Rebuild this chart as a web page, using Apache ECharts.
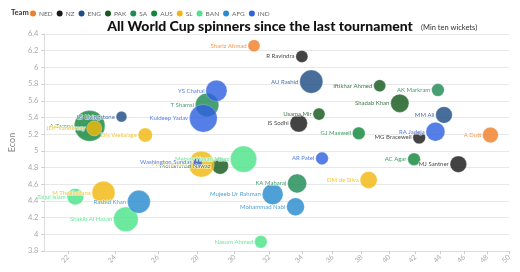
<!DOCTYPE html>
<html><head><meta charset="utf-8">
<script src="https://cdn.jsdelivr.net/npm/echarts@6/dist/echarts.min.js"></script>
<style>html,body{margin:0;padding:0;background:#fff}#c{width:520px;height:272px}</style>
</head><body><div id="c"></div>
<script>
const teams = ['NED','NZ','ENG','PAK','SA','AUS','SL','BAN','AFG','IND'];
const players = ['Shariz Ahmad','R Ravindra','AU Rashid','YS Chahal','T Shamsi','Kuldeep Yadav','Usama Mir','IS Sodhi','GJ Maxwell','Iftikhar Ahmed','AK Markram','Shadab Khan','MM Ali','RA Jadeja','MG Bracewell','A Dutt','AC Agar','MJ Santner','DM de Silva','AR Patel','Mehidy Hasan Miraz','PWH de Silva','Washington Sundar','Mohammad Nawaz','KA Maharaj','Mujeeb Ur Rahman','Mohammad Nabi','Nasum Ahmed','M Theekshana','Taijul Islam','Rashid Khan','Shakib Al Hasan','A Zampa','JDF Vandersay','LS Livingstone','DN Wellalage'];
const playerTeams = ['NED','NZ','ENG','IND','SA','IND','PAK','NZ','AUS','PAK','SA','PAK','ENG','IND','NZ','NED','AUS','NZ','SL','IND','BAN','SL','IND','PAK','SA','AFG','AFG','BAN','SL','BAN','AFG','BAN','AUS','SL','ENG','SL'];
const averages = [31.1,34.0,34.6,29.0,28.5,28.3,35.1,33.8,37.8,39.3,43.8,40.8,44.3,43.6,42.3,48.3,41.9,45.5,38.5,35.3,30.5,28.2,28.0,29.2,33.7,32.2,33.6,31.5,23.5,22.3,25.1,24.5,22.9,23.1,24.3,25.4];
const economies = [6.26,6.13,5.83,5.72,5.55,5.39,5.44,5.33,5.21,5.78,5.73,5.57,5.43,5.23,5.16,5.19,4.90,4.84,4.65,4.91,4.90,4.84,4.86,4.82,4.61,4.48,4.33,3.91,4.50,4.45,4.39,4.18,5.30,5.27,5.41,5.19];
const wickets = [10,10,37,31,38,53,10,21,11,10,11,23,19,25,11,17,11,19,20,11,48,46,6,19,25,30,22,11,36,19,36,42,65,16,8,14];
const xTicks = [22,24,26,28,30,32,34,36,38,40,42,44,46,48,50];
const yMin = 3.8, yMax = 6.4, yStep = 0.2;
const xMin = 21.05, xMax = 50;

const colors = {NED:'#f07f2a',NZ:'#1a1a1a',ENG:'#1f4e85',PAK:'#15591f',SA:'#1f8a55',AUS:'#12873c',SL:'#f2b70f',BAN:'#4de38a',AFG:'#2a8bd0',IND:'#2f62e0'};

const chart = echarts.init(document.getElementById('c'), null, {renderer:'canvas'});
const series = teams.map(t => ({
  name: t, type: 'scatter',
  itemStyle: {color: colors[t], opacity: 0.82, borderColor: 'rgba(255,255,255,0.5)', borderWidth: 0.6},
  symbolSize: v => 3.8*Math.sqrt(v[2]),
  label: {show: true, position: 'left', distance: 1, formatter: p => p.data[3],
    color: colors[t], fontSize: 6, fontFamily: 'Lato', textBorderColor: '#fff', textBorderWidth: 1.2},
  emphasis: {disabled: true},
  data: players.map((p,i)=>i).filter(i=>playerTeams[i]===t).map(i=>[Math.log(averages[i]), economies[i], wickets[i], players[i]])
}));

chart.setOption({
  animation: false,
  textStyle: {fontFamily: 'Lato'},
  title: [
    {text: 'All World Cup spinners since the last tournament', left: 'center', top: 14, textStyle:{fontSize: 14, fontWeight: 900, color:'#111', fontFamily:'Lato'}},
    {text: '(Min ten wickets)', left: 416, top: 19, textStyle:{fontSize: 7.5, fontWeight: 'normal', color:'#333', fontFamily:'Lato'}},
    {text: 'Team', left: 6, top: 4, textStyle:{fontSize: 7.5, fontWeight: 'bold', color:'#333', fontFamily:'Lato'}}
  ],
  legend: {data: teams, left: 25, top: 5, icon: 'circle', itemWidth: 6, itemHeight: 6, itemGap: 4,
    textStyle: {fontSize: 6.5, color:'#666', padding:[0,0,0,-2]}, selectedMode: false,
    itemStyle: {opacity: 1, borderWidth: 0}},
  grid: {left: 39, right: 11, top: 34, bottom: 21},
  xAxis: {type: 'value', min: Math.log(xMin), max: Math.log(xMax),
    splitLine: {show: false},
    axisLine: {show: true, lineStyle: {color: '#ddd'}},
    axisTick: {show: true, customValues: xTicks.map(Math.log), length: 3, lineStyle:{color:'#ccc'}},
    axisLabel: {customValues: xTicks.map(Math.log), formatter: v => String(Math.round(Math.exp(v))), rotate: 45, fontSize: 7, color: '#aaa', margin: 5}
  },
  yAxis: {type: 'value', min: yMin, max: yMax, interval: yStep, name: 'Econ', nameLocation: 'middle', nameGap: 24,
    nameTextStyle: {fontSize: 9, color: '#888'},
    axisLine: {show: true, lineStyle: {color: '#ddd'}},
    axisTick: {show: true, length: 3, lineStyle:{color:'#ccc'}},
    splitLine: {lineStyle: {color: '#e8e8e8'}},
    axisLabel: {fontSize: 7.5, color: '#aaa', margin: 6, formatter: v => String(+v.toFixed(1))}
  },
  series: series
});
</script></body></html>
